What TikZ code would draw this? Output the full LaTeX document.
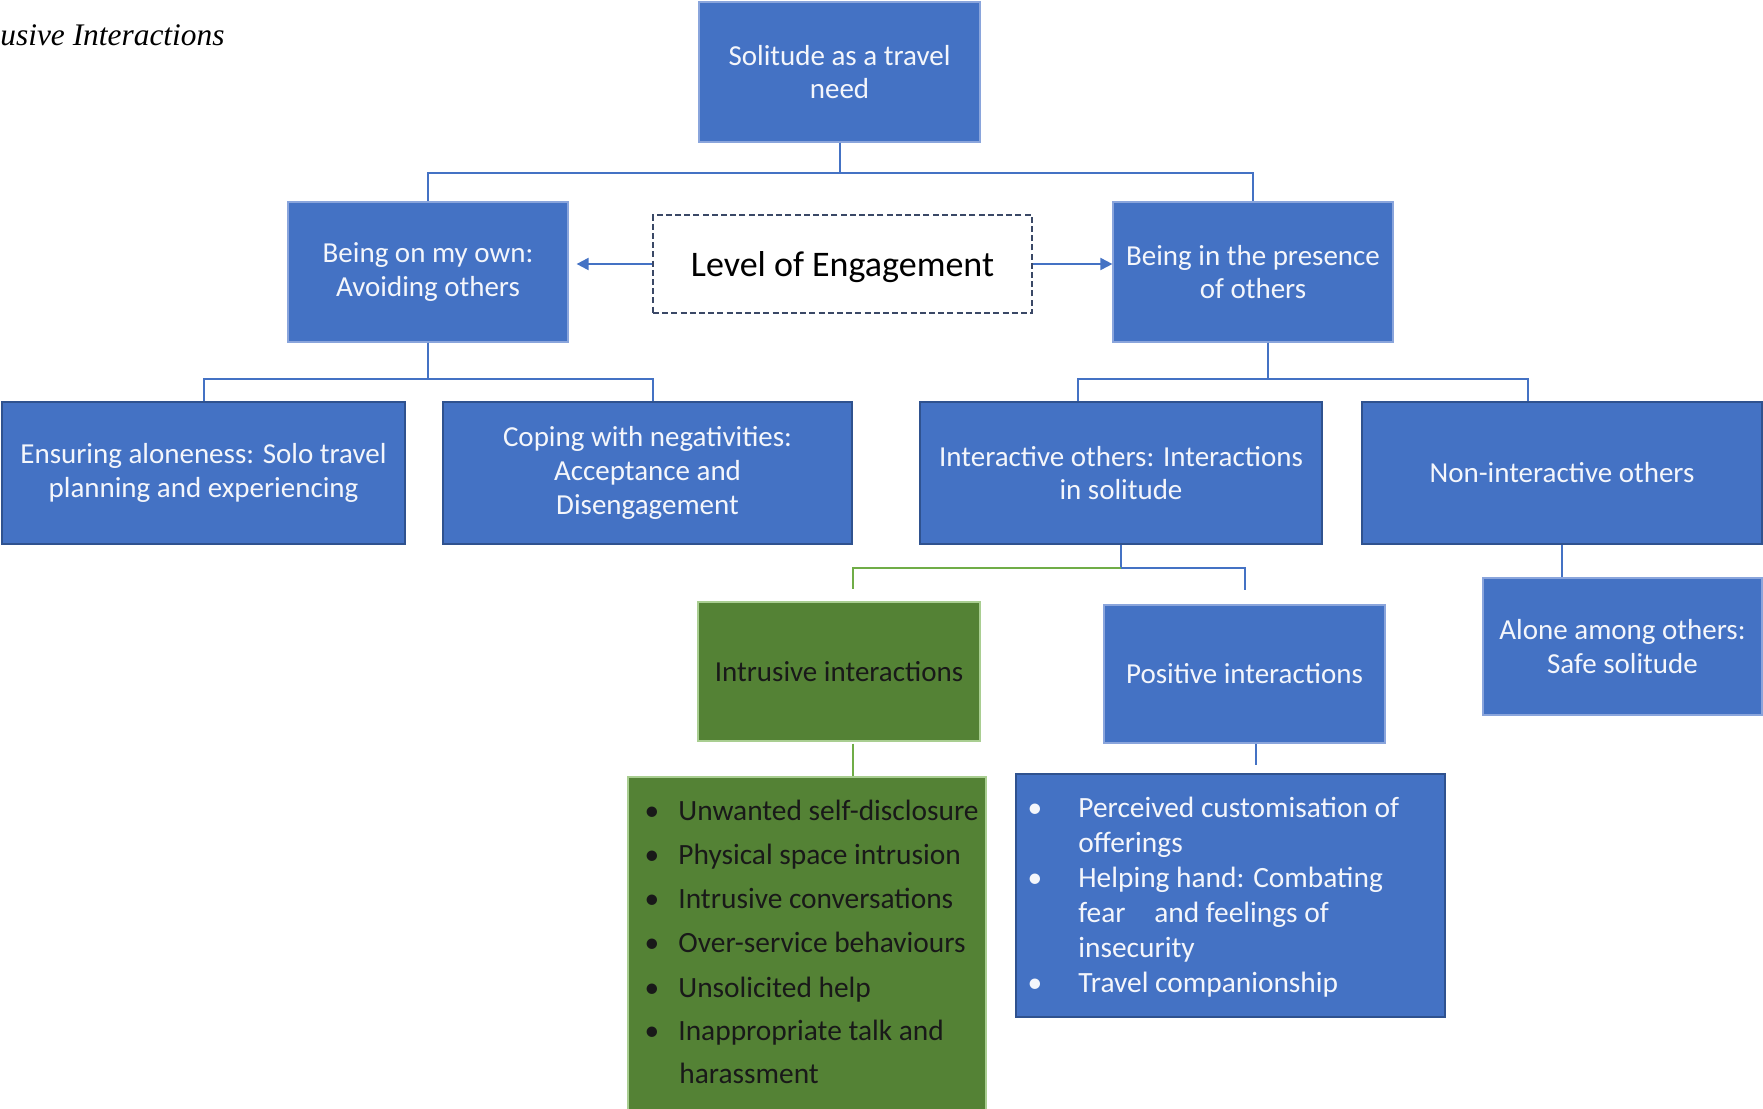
\documentclass[tikz,border=0pt]{standalone}
\usepackage{fontspec}
\setmainfont{Carlito}
\newfontfamily\capfont{Liberation Serif}
\usetikzlibrary{arrows.meta,calc}

\definecolor{boxblue}{HTML}{4472C4}
\definecolor{navy}{HTML}{2F528F}
\definecolor{edgeblue}{HTML}{8AA5DC}
\definecolor{boxgreen}{HTML}{548235}
\definecolor{linegreen}{HTML}{70AD47}
\definecolor{dashnavy}{HTML}{3A4866}
\definecolor{lightwhite}{HTML}{F4F6FB}

\begin{document}
\begin{tikzpicture}[x=0.5pt,y=-0.5pt,
  box/.style={fill=boxblue, draw=edgeblue, line width=0.6pt, inner sep=0pt,
    text=lightwhite, align=center, font=\fontsize{14.5}{16.8}\selectfont},
  darkbox/.style={box, draw=navy, line width=1pt},
  greenbox/.style={box, fill=boxgreen, draw=linegreen!60!white, text=black!90},
  dashbox/.style={draw=dashnavy, line width=0.7pt, dash pattern=on 3pt off 1.6pt,
    fill=white, inner sep=0pt, text depth=0pt, font=\fontsize{18}{21}\selectfont},
  link/.style={draw=boxblue, line width=1pt},
  glink/.style={draw=linegreen, line width=1pt},
  arr/.style={link, -{Triangle[length=6pt,width=6pt]}},
  itemw/.style={anchor=base west, inner sep=0pt, text=lightwhite, font=\fontsize{14.7}{18}\selectfont},
  itemb/.style={itemw, text=black!90},
  dotw/.style={anchor=base, inner sep=0pt, text=lightwhite, font=\fontsize{14.7}{18}\selectfont},
  dotb/.style={dotw, text=black!90}]

\useasboundingbox (0,0) rectangle (1763,1109);

% caption fragment
\node[anchor=base west, inner sep=0pt, font=\capfont\itshape\fontsize{15.7}{18}\selectfont] (title) at (0,45) {usive Interactions};

% boxes
\node[box, minimum width=140.5pt, minimum height=70pt] (top) at (839.5,72) {Solitude as a travel\\need};
\node[box, minimum width=140pt, minimum height=70pt] (own) at (428,272) {Being on my own:\\Avoiding others};
\node[dashbox, minimum width=189.5pt, minimum height=49pt] (level) at (842.5,264) {Level of Engagement};
\node[box, minimum width=140pt, minimum height=70pt] (pres) at (1253,272) {Being in the presence\\of others};

\node[darkbox, minimum width=201.5pt, minimum height=71pt] (ens) at (203.5,473) {Ensuring aloneness: Solo travel\\planning and experiencing};
\node[darkbox, minimum width=204.5pt, minimum height=71pt] (cope) at (647.5,473) {Coping with negativities:\\Acceptance and\\Disengagement};
\node[darkbox, minimum width=201pt, minimum height=71pt] (inter) at (1121,473) {Interactive others: Interactions\\in solitude};
\node[darkbox, minimum width=200pt, minimum height=71pt] (nonint) at (1562,473) {Non-interactive others};

\node[greenbox, minimum width=141pt, minimum height=69.5pt] (intr) at (839,671.5) {Intrusive interactions};
\node[box, minimum width=140.5pt, minimum height=69pt] (pos) at (1244.5,674) {Positive interactions};
\node[box, minimum width=139.5pt, minimum height=68.5pt] (alone) at (1622.5,646.5) {Alone among others:\\Safe solitude};

\node[greenbox, minimum width=179pt, minimum height=174pt] (ilist) at (807,951) {};
\node[darkbox, minimum width=214.5pt, minimum height=121.5pt] (plist) at (1230.5,895.5) {};

% list of intrusive interactions
\foreach \y/\t in {820/Unwanted self-disclosure, 864/Physical space intrusion,
    908/Intrusive conversations, 952/Over-service behaviours,
    997/Unsolicited help, 1040/Inappropriate talk and} {
  \node[dotb] at (652,\y) {\textbullet};
  \node[itemb] at (678,\y) {\t};
}
\node[itemb] (harass) at (679,1083) {harassment};

% list of positive interactions
\foreach \y/\t in {817/Perceived customisation of, 887/Helping hand: Combating,
    992/Travel companionship} {
  \node[dotw] at (1035,\y) {\textbullet};
  \node[itemw] at (1078,\y) {\t};
}
\node[itemw] (offer) at (1078,852) {offerings};
\node[itemw] (fear) at (1078,922) {fear\hspace{0.75em} and feelings of};
\node[itemw] (insec) at (1078,957) {insecurity};

% tree connectors
\draw[link] (top.south) -- ++(0,30) -| (own.north);
\draw[link] (top.south) -- ++(0,30) -| (pres.north);
\draw[link] (own.south) -- ++(0,36) -| (ens.north);
\coordinate (copein) at ($(cope.north)+(5,0)$);
\draw[link] (own.south) -- ++(0,36) -| (copein);

\coordinate (presout) at ($(pres.south)+(15,0)$);
\coordinate (interin) at ($(inter.north)+(-43,0)$);
\coordinate (nonintin) at ($(nonint.north)+(-34,0)$);
\draw[link] (presout) -- ++(0,36) -| (interin);
\draw[link] (presout) -- ++(0,36) -| (nonintin);
\draw[link] (nonint.south) -- (nonint.south |- alone.north);

\coordinate (split) at ($(inter.south)+(0,23)$);
\coordinate (intrin) at ($(intr.north)+(14,0)$);
\draw[link] (inter.south) -- (split);
\draw[glink, shorten >=6pt] (split) -| (intrin);
\draw[link, shorten >=7pt] (split) -| (pos.north);

\coordinate (introut) at ($(intr.south)+(14,2)$);
\coordinate (ilistin) at (introut |- ilist.north);
\draw[glink] (introut) -- (ilistin);
\coordinate (posout) at ($(pos.south)+(11,0)$);
\coordinate (plistin) at (posout |- plist.north);
\draw[link, shorten >=4pt] (posout) -- (plistin);

% engagement arrows
\coordinate (ownin) at (level.west -| own.east);
\coordinate (presin) at (level.east -| pres.west);
\draw[arr, shorten >=4pt] (level.west) -- (ownin);
\draw[arr] (level.east) -- (presin);
\end{tikzpicture}
\end{document}
